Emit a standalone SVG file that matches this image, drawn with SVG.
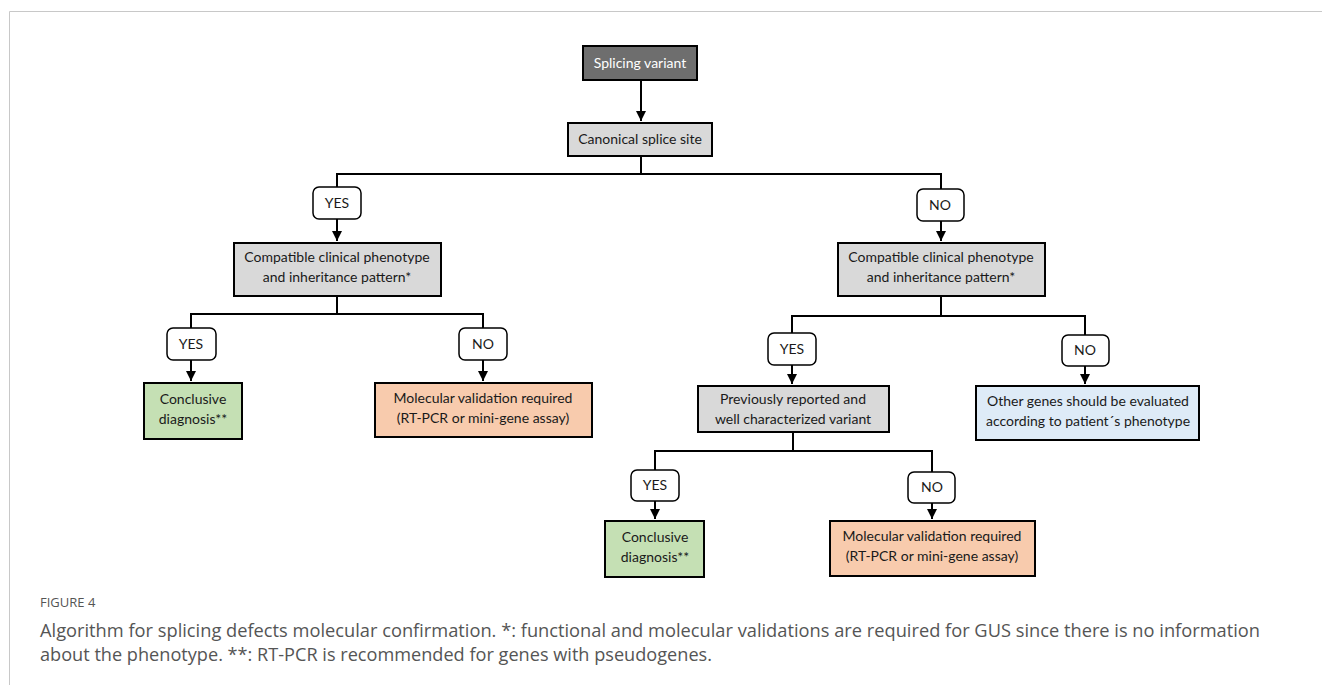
<svg xmlns="http://www.w3.org/2000/svg" width="1322" height="685" viewBox="0 0 1322 685">
<defs>
<marker id="ah" viewBox="0 0 10 10" refX="10" refY="5" markerWidth="10" markerHeight="10" markerUnits="userSpaceOnUse" orient="auto">
<path d="M0,0 L10,5 L0,10 z" fill="#000"/>
</marker>
</defs>
<style>
.box{stroke:#000;stroke-width:2}
.gray{fill:#d9d9d9}
.dark{fill:#6e6e6e}
.green{fill:#c5e0b4}
.orange{fill:#f8cbad}
.blue{fill:#deebf7}
.lbl{fill:#fff;stroke:#000;stroke-width:1.5}
.t{font-family:Lato,"Liberation Sans",sans-serif;font-size:14px;fill:#1a1a1a;text-anchor:middle}
.w{fill:#fff}
.c{fill:none;stroke:#000;stroke-width:2}
.cap{font-family:"Open Sans","Liberation Sans",sans-serif;fill:#555}
</style>
<rect width="1322" height="685" fill="#fff"/>
<path d="M9.5,685 V11.5 H1322" fill="none" stroke="#c8c8c8" stroke-width="1"/>

<g id="connectors">
<path class="c" d="M641,80 V121" marker-end="url(#ah)"/>
<path class="c" d="M641,156 V174 M337,174 H941 M337,173 V187 M941,173 V189"/>
<path class="c" d="M337,219 V241" marker-end="url(#ah)"/>
<path class="c" d="M941,221 V241" marker-end="url(#ah)"/>
<path class="c" d="M337,296 V314 M191,314 H483 M191,313 V328 M483,313 V328"/>
<path class="c" d="M191,360 V381" marker-end="url(#ah)"/>
<path class="c" d="M483,360 V381" marker-end="url(#ah)"/>
<path class="c" d="M941,296 V316 M792,316 H1085 M792,315 V333 M1085,315 V335"/>
<path class="c" d="M792,365 V384" marker-end="url(#ah)"/>
<path class="c" d="M1085,366 V384" marker-end="url(#ah)"/>
<path class="c" d="M793,432 V451 M655,451 H932 M655,450 V470 M932,450 V472"/>
<path class="c" d="M655,501 V519" marker-end="url(#ah)"/>
<path class="c" d="M932,503 V519" marker-end="url(#ah)"/>
</g>

<g id="n-splicing">
<rect class="box dark" x="583" y="46" width="114" height="34"/>
<text class="t w" x="640" y="67.5">Splicing variant</text>
</g>
<g id="n-canonical">
<rect class="box gray" x="568" y="123" width="144" height="33"/>
<text class="t" x="640" y="144">Canonical splice site</text>
</g>
<g id="l-yes1">
<rect class="lbl" x="313" y="187" width="48" height="32" rx="6"/>
<text class="t" x="337" y="208">YES</text>
</g>
<g id="l-no1">
<rect class="lbl" x="917" y="189" width="47" height="32" rx="6"/>
<text class="t" x="940" y="210">NO</text>
</g>
<g id="n-compat-left">
<rect class="box gray" x="234" y="243" width="207" height="53"/>
<text class="t" x="337" y="262">Compatible clinical phenotype</text>
<text class="t" x="337" y="282">and inheritance pattern*</text>
</g>
<g id="n-compat-right">
<rect class="box gray" x="838" y="243" width="207" height="53"/>
<text class="t" x="941" y="262">Compatible clinical phenotype</text>
<text class="t" x="941" y="282">and inheritance pattern*</text>
</g>
<g id="l-yes2">
<rect class="lbl" x="167" y="328" width="49" height="32" rx="6"/>
<text class="t" x="191" y="349">YES</text>
</g>
<g id="l-no2">
<rect class="lbl" x="459" y="328" width="48" height="32" rx="6"/>
<text class="t" x="483" y="349">NO</text>
</g>
<g id="n-conclusive1">
<rect class="box green" x="144" y="383" width="98" height="56"/>
<text class="t" x="193" y="404">Conclusive</text>
<text class="t" x="193" y="424">diagnosis**</text>
</g>
<g id="n-molecular1">
<rect class="box orange" x="375" y="383" width="217" height="54"/>
<text class="t" x="483" y="403">Molecular validation required</text>
<text class="t" x="483" y="423">(RT-PCR or mini-gene assay)</text>
</g>
<g id="l-yes3">
<rect class="lbl" x="768" y="333" width="48" height="32" rx="6"/>
<text class="t" x="792" y="354">YES</text>
</g>
<g id="l-no3">
<rect class="lbl" x="1062" y="335" width="47" height="31" rx="6"/>
<text class="t" x="1085" y="355">NO</text>
</g>
<g id="n-previously">
<rect class="box gray" x="698" y="386" width="191" height="46"/>
<text class="t" x="793" y="404">Previously reported and</text>
<text class="t" x="793" y="424">well characterized variant</text>
</g>
<g id="n-othergenes">
<rect class="box blue" x="976" y="386" width="223" height="54"/>
<text class="t" x="1088" y="406">Other genes should be evaluated</text>
<text class="t" x="1088" y="426">according to patient´s phenotype</text>
</g>
<g id="l-yes4">
<rect class="lbl" x="631" y="470" width="48" height="31" rx="6"/>
<text class="t" x="655" y="490">YES</text>
</g>
<g id="l-no4">
<rect class="lbl" x="908" y="472" width="47" height="31" rx="6"/>
<text class="t" x="932" y="492">NO</text>
</g>
<g id="n-conclusive2">
<rect class="box green" x="605" y="521" width="99" height="56"/>
<text class="t" x="655" y="542">Conclusive</text>
<text class="t" x="655" y="562">diagnosis**</text>
</g>
<g id="n-molecular2">
<rect class="box orange" x="830" y="521" width="205" height="55"/>
<text class="t" x="932" y="541">Molecular validation required</text>
<text class="t" x="932" y="561">(RT-PCR or mini-gene assay)</text>
</g>

<g id="caption">
<text class="cap" x="40" y="607" font-size="13">FIGURE 4</text>
<text class="cap" x="40" y="637" font-size="17.5" textLength="1220" lengthAdjust="spacingAndGlyphs">Algorithm for splicing defects molecular confirmation. *: functional and molecular validations are required for GUS since there is no information</text>
<text class="cap" x="40" y="661" font-size="17.5" textLength="672" lengthAdjust="spacingAndGlyphs">about the phenotype. **: RT-PCR is recommended for genes with pseudogenes.</text>
</g>
</svg>
